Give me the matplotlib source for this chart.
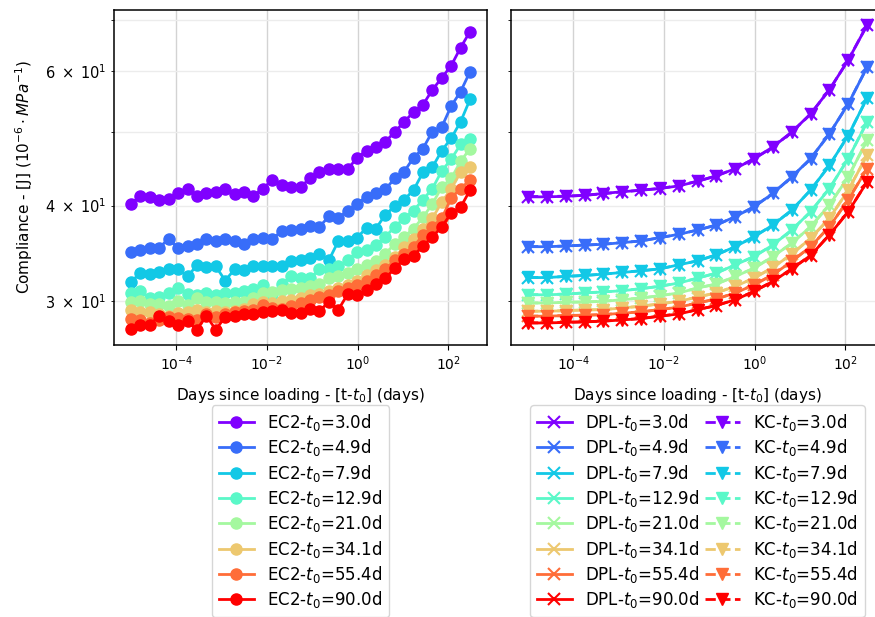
import numpy as np
import matplotlib
matplotlib.use("Agg")
import matplotlib.pyplot as plt
from matplotlib.ticker import NullLocator, FuncFormatter

# ---------------- data ----------------
t0_values = [3.0, 4.9, 7.9, 12.9, 21.0, 34.1, 55.4, 90.0]

# time since loading (days)
days = [1.0e-5, 1.61e-5, 2.61e-5, 4.20e-5, 6.78e-5, 1.09e-4, 1.77e-4, 2.85e-4,
        4.60e-4, 7.42e-4, 1.20e-3, 1.93e-3, 3.12e-3, 5.03e-3, 8.11e-3, 1.31e-2,
        2.11e-2, 3.41e-2, 5.50e-2, 8.87e-2, 0.143, 0.231, 0.373, 0.601, 0.970,
        1.57, 2.52, 4.07, 6.58, 10.6, 17.1, 27.6, 44.6, 71.9, 116.0, 187.0, 302.0]

# model curves use every second time
days_model = days[::2]

x_ticks = [1e-4, 1e-2, 1e0, 1e2]
y_labelled = [30, 40, 60]

ec2_3_0 = [40.2, 41.2, 41.1, 40.7, 40.8, 41.5, 42.0, 41.2, 41.5, 41.7, 42.0, 41.4, 41.7,
           41.2, 42.1, 43.2, 42.6, 42.3, 42.3, 43.4, 44.3, 44.6, 44.7, 44.6, 46.2, 47.2,
           47.7, 48.5, 49.9, 51.5, 53.0, 54.2, 56.7, 58.8, 61.0, 64.4, 67.6]
ec2_4_9 = [34.8, 35.0, 35.2, 35.2, 36.2, 35.2, 35.4, 35.6, 36.2, 35.9, 36.2, 35.9, 35.6,
           36.2, 36.3, 36.2, 37.0, 37.2, 37.3, 37.6, 37.5, 38.7, 38.5, 39.4, 40.2, 41.1,
           41.5, 42.0, 43.4, 44.3, 46.2, 47.5, 50.0, 50.7, 54.0, 56.4, 59.9]
ec2_7_9 = [31.8, 32.6, 32.5, 32.7, 33.0, 33.0, 32.3, 33.4, 33.2, 33.3, 31.9, 33.0, 32.9,
           33.3, 33.3, 33.3, 33.3, 33.8, 33.9, 34.1, 34.6, 33.9, 35.9, 35.9, 36.3, 37.4,
           37.3, 38.9, 39.9, 40.7, 41.9, 44.2, 44.9, 47.2, 49.0, 51.5, 55.1]
ec2_12_9 = [30.7, 30.9, 30.3, 30.4, 30.7, 31.2, 30.6, 30.5, 30.7, 30.5, 30.7, 30.7, 30.9,
            31.1, 31.5, 30.6, 31.6, 32.3, 32.1, 32.1, 33.0, 33.0, 33.3, 33.9, 34.8, 35.0,
            35.5, 36.4, 37.5, 38.5, 39.4, 40.7, 42.1, 44.4, 46.0, 48.1, 48.9]
ec2_21_0 = [29.9, 30.0, 29.7, 29.7, 29.5, 30.0, 29.6, 30.3, 29.9, 29.9, 29.8, 29.9, 29.9,
            30.3, 30.7, 30.8, 31.0, 31.1, 31.2, 31.4, 31.6, 32.1, 32.3, 32.6, 33.0, 33.4,
            33.8, 34.6, 35.6, 36.4, 37.3, 38.6, 40.2, 42.3, 43.4, 45.7, 47.5]
ec2_34_1 = [29.2, 29.0, 29.0, 28.8, 28.7, 28.9, 29.0, 29.2, 29.0, 29.1, 29.0, 29.1, 29.3,
            29.7, 29.9, 29.8, 30.0, 30.1, 30.3, 30.5, 30.6, 30.9, 31.2, 31.5, 31.9, 32.4,
            32.9, 33.4, 34.2, 35.3, 36.2, 37.3, 38.5, 40.4, 42.1, 44.2, 44.9]
ec2_55_4 = [28.4, 28.3, 28.1, 28.3, 28.6, 28.5, 28.4, 28.3, 28.8, 28.6, 28.8, 29.0, 29.1,
            29.2, 29.6, 29.4, 29.3, 29.5, 29.8, 30.1, 30.4, 30.5, 30.9, 31.2, 31.5, 31.9,
            32.4, 33.0, 33.9, 34.6, 35.3, 36.6, 37.5, 38.5, 40.9, 42.1, 43.2]
ec2_90_0 = [27.6, 27.9, 27.9, 28.7, 28.2, 27.9, 28.2, 27.5, 28.7, 27.5, 28.6, 28.7, 28.8,
            28.8, 29.0, 29.1, 29.2, 28.9, 28.9, 29.3, 29.1, 29.9, 29.2, 30.6, 30.5, 31.0,
            31.6, 32.1, 33.1, 34.0, 34.4, 35.4, 36.4, 37.5, 39.1, 39.8, 41.9]

dpl_3_0 = [41.06, 41.06, 41.13, 41.25, 41.48, 41.70, 41.89, 42.10, 42.44, 43.03,
           43.73, 44.70, 46.07, 47.72, 49.92, 52.73, 56.72, 62.01, 68.89]
dpl_4_9 = [35.33, 35.33, 35.40, 35.51, 35.58, 35.77, 35.94, 36.31, 36.67, 37.15,
           37.71, 38.68, 39.85, 41.48, 43.60, 46.07, 49.66, 54.34, 60.67]
dpl_7_9 = [32.19, 32.19, 32.30, 32.40, 32.52, 32.69, 32.85, 33.04, 33.45, 33.85,
           34.47, 35.33, 36.41, 37.71, 39.44, 41.89, 45.14, 49.41, 55.29]
dpl_12_9 = [30.56, 30.56, 30.62, 30.73, 30.82, 30.94, 31.12, 31.35, 31.66, 32.13,
            32.62, 33.45, 34.29, 35.51, 37.15, 39.25, 42.10, 46.07, 51.43]
dpl_21_0 = [29.81, 29.81, 29.88, 29.90, 29.96, 30.11, 30.26, 30.47, 30.73, 31.19,
            31.56, 32.30, 33.11, 34.29, 35.69, 37.52, 40.05, 43.60, 48.68]
dpl_34_1 = [29.08, 29.08, 29.13, 29.19, 29.22, 29.37, 29.52, 29.73, 29.96, 30.35,
            30.73, 31.35, 32.13, 33.18, 34.54, 36.23, 38.47, 41.89, 46.52]
dpl_55_4 = [28.65, 28.65, 28.70, 28.73, 28.78, 28.91, 29.02, 29.22, 29.44, 29.81,
            30.17, 30.73, 31.49, 32.46, 33.79, 35.33, 37.52, 40.69, 44.70]
dpl_90_0 = [28.07, 28.07, 28.12, 28.16, 28.22, 28.33, 28.44, 28.65, 28.84, 29.22,
            29.58, 30.11, 30.87, 31.82, 33.04, 34.40, 36.60, 39.25, 42.95]

kc_3_0 = [41.10, 41.10, 41.15, 41.25, 41.45, 41.68, 41.90, 42.12, 42.48, 43.05,
          43.75, 44.72, 46.05, 47.70, 49.90, 52.70, 56.70, 62.05, 68.90]
kc_4_9 = [35.35, 35.35, 35.40, 35.50, 35.60, 35.78, 35.95, 36.30, 36.68, 37.15,
          37.72, 38.68, 39.85, 41.50, 43.60, 46.05, 49.65, 54.35, 60.70]
kc_7_9 = [32.20, 32.20, 32.30, 32.40, 32.52, 32.70, 32.86, 33.05, 33.45, 33.86,
          34.48, 35.33, 36.42, 37.72, 39.45, 41.90, 45.15, 49.40, 55.30]
kc_12_9 = [30.58, 30.58, 30.63, 30.74, 30.83, 30.95, 31.13, 31.36, 31.67, 32.14,
           32.63, 33.46, 34.30, 35.52, 37.16, 39.26, 42.10, 46.08, 51.45]
kc_21_0 = [29.82, 29.82, 29.88, 29.91, 29.97, 30.12, 30.27, 30.48, 30.74, 31.20,
           31.57, 32.31, 33.12, 34.30, 35.70, 37.53, 40.06, 43.61, 48.70]
kc_34_1 = [29.09, 29.09, 29.14, 29.20, 29.23, 29.38, 29.53, 29.74, 29.97, 30.36,
           30.74, 31.36, 32.14, 33.19, 34.55, 36.24, 38.48, 41.90, 46.55]
kc_55_4 = [28.66, 28.66, 28.71, 28.74, 28.79, 28.92, 29.03, 29.23, 29.45, 29.82,
           30.18, 30.74, 31.50, 32.47, 33.80, 35.34, 37.53, 40.70, 44.72]
kc_90_0 = [28.08, 28.08, 28.13, 28.17, 28.23, 28.34, 28.45, 28.66, 28.85, 29.23,
           29.59, 30.12, 30.88, 31.83, 33.05, 34.41, 36.61, 39.26, 42.97]

ec2_series = [ec2_3_0, ec2_4_9, ec2_7_9, ec2_12_9, ec2_21_0, ec2_34_1, ec2_55_4, ec2_90_0]
dpl_series = [dpl_3_0, dpl_4_9, dpl_7_9, dpl_12_9, dpl_21_0, dpl_34_1, dpl_55_4, dpl_90_0]
kc_series = [kc_3_0, kc_4_9, kc_7_9, kc_12_9, kc_21_0, kc_34_1, kc_55_4, kc_90_0]

# ---------------- plot ----------------
colors = plt.cm.rainbow(np.linspace(0, 1, len(t0_values)))

fig = plt.figure(figsize=(8.75, 6.17), dpi=100)
ax1 = fig.add_axes([114 / 875, 1 - 345 / 617, 373 / 875, 335 / 617])
ax2 = fig.add_axes([511 / 875, 1 - 345 / 617, 373 / 875, 335 / 617], sharex=ax1, sharey=ax1)

for t0, ys, c in zip(t0_values, ec2_series, colors):
    ax1.plot(days, ys, marker='o', markersize=8, linewidth=2, color=c,
             label=f"EC2-$t_0$={t0:.1f}d")

for t0, ys, c in zip(t0_values, dpl_series, colors):
    ax2.plot(days_model, ys, marker='x', markersize=8, markeredgewidth=1.5, linewidth=2,
             color=c, label=f"DPL-$t_0$={t0:.1f}d")
for t0, ys, c in zip(t0_values, kc_series, colors):
    ax2.plot(days_model, ys, marker='v', markersize=8, linewidth=2, linestyle='--',
             color=c, label=f"KC-$t_0$={t0:.1f}d")


def y_minor_fmt(v, pos):
    for lv in y_labelled:
        if abs(v - lv) < 1e-6 * lv:
            mant = int(round(lv / 10))
            return r"$\mathdefault{%d\;\times\;10^{1}}$" % mant
    return ""


for ax in (ax1, ax2):
    ax.set_xscale('log')
    ax.set_yscale('log')
    ax.set_xticks(x_ticks)
    ax.xaxis.set_minor_locator(NullLocator())
    ax.grid(True, which='major', color='#d3d3d3', linewidth=1.0)
    ax.grid(True, which='minor', axis='y', color='#ececec', linewidth=1.0)
    ax.set_axisbelow(True)
    ax.tick_params(axis='x', labelsize=10)
    ax.tick_params(axis='y', which='both', labelsize=10.5)
    ax.set_xlabel("Days since loading - [t-$t_0$] (days)", fontsize=11, labelpad=9)
    for sp in ax.spines.values():
        sp.set_linewidth(1.1)

ax1.yaxis.set_minor_formatter(FuncFormatter(y_minor_fmt))
ax2.tick_params(axis='y', which='both', labelleft=False)
ax1.set_ylabel(r"Compliance - [J] ($10^{-6} \cdot MPa^{-1}$)", fontsize=11, labelpad=7)

ax1.legend(loc='upper center', bbox_to_anchor=(0.5, -0.18), borderaxespad=0,
           ncol=1, fontsize=12, labelspacing=0.26, handlelength=2.1)
ax2.legend(loc='upper center', bbox_to_anchor=(0.5, -0.18), borderaxespad=0,
           ncol=2, fontsize=12, labelspacing=0.26, handlelength=2.1,
           handletextpad=0.8, columnspacing=0.3)

fig.savefig("out.png", dpi=100)
